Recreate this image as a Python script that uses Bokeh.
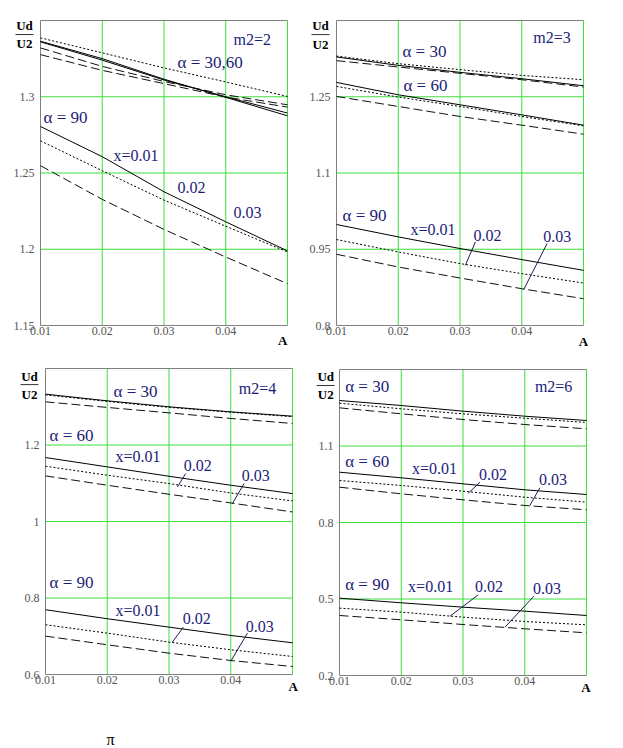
from bokeh.plotting import figure
from bokeh.models import FixedTicker, Label, Arrow, Range1d
from bokeh.layouts import gridplot
from bokeh.embed import file_html
from bokeh.resources import INLINE

# ---------------- data ----------------
A = [0.01, 0.02, 0.03, 0.04, 0.05]
x_ticks = [0.01, 0.02, 0.03, 0.04]
x_grid = [0.02, 0.03, 0.04, 0.05]

# m2 = 2
m2_2_a3060_solid1 = [1.3364, 1.3250, 1.3115, 1.2996, 1.2875]
m2_2_a3060_solid2 = [1.3360, 1.3240, 1.3110, 1.3000, 1.2893]
m2_2_a3060_dotted = [1.3386, 1.3288, 1.3189, 1.3097, 1.3002]
m2_2_a3060_dash1 = [1.3320, 1.3199, 1.3100, 1.3013, 1.2947]
m2_2_a3060_dash2 = [1.3276, 1.3173, 1.3086, 1.2998, 1.2932]
m2_2_a90_x001 = [1.2805, 1.2607, 1.2377, 1.2180, 1.1989]
m2_2_a90_x002 = [1.2711, 1.2515, 1.2322, 1.2151, 1.1982]
m2_2_a90_x003 = [1.2548, 1.2327, 1.2130, 1.1949, 1.1774]
m2_2_yticks = [1.15, 1.2, 1.25, 1.3]

# m2 = 3
m2_3_a30_x001 = [1.3283, 1.3118, 1.2980, 1.2855, 1.2717]
m2_3_a30_x002 = [1.3300, 1.3151, 1.3033, 1.2920, 1.2835]
m2_3_a30_x003 = [1.3210, 1.3085, 1.2961, 1.2835, 1.2691]
m2_3_a60_x001 = [1.2782, 1.2539, 1.2342, 1.2144, 1.1941]
m2_3_a60_x002 = [1.2703, 1.2494, 1.2309, 1.2112, 1.1927]
m2_3_a60_x003 = [1.2506, 1.2309, 1.2112, 1.1941, 1.1763]
m2_3_a90_x001 = [0.9987, 0.9743, 0.9514, 0.9297, 0.9085]
m2_3_a90_x002 = [0.9691, 0.9447, 0.9218, 0.9020, 0.8835]
m2_3_a90_x003 = [0.9401, 0.9151, 0.8934, 0.8724, 0.8527]
m2_3_yticks = [0.8, 0.95, 1.1, 1.25]

# m2 = 4
m2_4_a30_x001 = [1.3330, 1.3155, 1.2998, 1.2867, 1.2754]
m2_4_a30_x002 = [1.3310, 1.3140, 1.2985, 1.2855, 1.2740]
m2_4_a30_x003 = [1.3128, 1.2982, 1.2841, 1.2694, 1.2563]
m2_4_a60_x001 = [1.1672, 1.1428, 1.1183, 1.0948, 1.0730]
m2_4_a60_x002 = [1.1445, 1.1210, 1.0992, 1.0746, 1.0537]
m2_4_a60_x003 = [1.1192, 1.0948, 1.0712, 1.0485, 1.0249]
m2_4_a90_x001 = [0.7693, 0.7458, 0.7238, 0.7021, 0.6829]
m2_4_a90_x002 = [0.7301, 0.7082, 0.6846, 0.6647, 0.6471]
m2_4_a90_x003 = [0.7003, 0.6777, 0.6558, 0.6366, 0.6209]
m2_4_yticks = [0.6, 0.8, 1.0, 1.2]

# m2 = 6
m2_6_a30_x001 = [1.2784, 1.2588, 1.2366, 1.2169, 1.2000]
m2_6_a30_x002 = [1.2678, 1.2458, 1.2262, 1.2090, 1.1922]
m2_6_a30_x003 = [1.2497, 1.2262, 1.2039, 1.1843, 1.1674]
m2_6_a60_x001 = [0.9973, 0.9753, 0.9517, 0.9282, 0.9098]
m2_6_a60_x002 = [0.9647, 0.9451, 0.9228, 0.8993, 0.8797]
m2_6_a60_x003 = [0.9384, 0.9125, 0.8889, 0.8667, 0.8497]
m2_6_a90_x001 = [0.5033, 0.4851, 0.4680, 0.4523, 0.4353]
m2_6_a90_x002 = [0.4641, 0.4484, 0.4288, 0.4118, 0.3987]
m2_6_a90_x003 = [0.4353, 0.4184, 0.4000, 0.3831, 0.3673]
m2_6_yticks = [0.2, 0.5, 0.8, 1.1]

# ---------------- style ----------------
NAVY = "#1c1c78"
GREEN = "#3de03d"
GRAY = "#808080"
SERIF = "Liberation Serif"
DOT = "2 2"
DASH = "9 4"
X0, X1 = 0.01, 0.05


def fmt(v):
    return ("%.2f" % v).rstrip("0").rstrip(".")


def make_panel(W, H, box, ylo, yhi, yticks):
    # box = (left, right, top, bottom) of the plotting box, in canvas pixels
    l, r, t, b = box
    kx = (X1 - X0) / (r - l)
    ky = (yhi - ylo) / (b - t)
    xr = Range1d(X0 - l * kx, X1 + (W - r) * kx)
    yr = Range1d(ylo - (H - b) * ky, yhi + t * ky)
    p = figure(width=W, height=H, x_range=xr, y_range=yr,
               output_backend="svg", toolbar_location=None,
               min_border=0, min_border_left=0, min_border_right=0,
               min_border_top=0, min_border_bottom=0)
    p.background_fill_color = "white"
    p.border_fill_color = "white"
    p.outline_line_color = None
    p.outline_line_alpha = 0
    p.grid.visible = False

    # grid lines of the plotting box
    p.segment(x0=x_grid, y0=[ylo] * len(x_grid), x1=x_grid, y1=[yhi] * len(x_grid),
              line_color=GREEN, line_width=1)
    hy = yticks[1:]
    p.segment(x0=[X0] * len(hy), y0=hy, x1=[X1] * len(hy), y1=hy,
              line_color=GREEN, line_width=1)
    # top, left and bottom edges of the box
    p.segment(x0=[X0, X0, X0], y0=[yhi, ylo, ylo], x1=[X1, X0, X1], y1=[yhi, yhi, ylo],
              line_color=GRAY, line_width=1)

    p.xaxis.ticker = FixedTicker(ticks=x_ticks)
    p.yaxis.ticker = FixedTicker(ticks=yticks)
    p.yaxis.major_label_overrides = {tk: fmt(tk) for tk in yticks}
    p.xaxis.major_label_overrides = {tk: fmt(tk) for tk in x_ticks}
    p.xaxis.fixed_location = ylo
    p.yaxis.fixed_location = X0
    p.xaxis.bounds = (X0, X1)
    p.yaxis.bounds = (ylo, yhi)
    for ax in (p.xaxis, p.yaxis):
        ax.axis_line_color = None
        ax.major_tick_line_color = None
        ax.minor_tick_line_color = None
        ax.major_tick_out = 0
        ax.major_tick_in = 0
        ax.minor_tick_out = 0
        ax.minor_tick_in = 0
        ax.major_label_text_font = SERIF
        ax.major_label_text_font_size = "12px"
        ax.major_label_text_color = "#555555"
    p.xaxis.major_label_standoff = 1
    p.yaxis.major_label_standoff = 6
    return p


def curves(p, solid, dotted, dashed):
    for ys in solid:
        p.line(A, ys, line_color="black", line_width=1)
    for ys in dotted:
        p.line(A, ys, line_color="black", line_width=1, line_dash=DOT)
    for ys in dashed:
        p.line(A, ys, line_color="#111111", line_width=1, line_dash=DASH)


def txt(p, x, y, s, size="16px", align="left", style="normal", color=NAVY):
    p.add_layout(Label(x=x, y=y, text=s, text_font=SERIF, text_font_size=size,
                       text_color=color, text_align=align, text_baseline="middle",
                       text_font_style=style))


def leader(p, x0, y0, x1, y1, color="#1c1c50"):
    p.add_layout(Arrow(end=None, x_start=x0, y_start=y0, x_end=x1, y_end=y1,
                       line_color=color, line_width=1))


def ud_u2(p, xc, y_ud, y_bar, y_u2, xb0, xb1, xa, ya):
    txt(p, xc, y_ud, "Ud", size="13px", align="center", style="bold", color="black")
    txt(p, xc, y_u2, "U2", size="13px", align="center", style="bold", color="black")
    leader(p, xb0, y_bar, xb1, y_bar, color="#333333")
    txt(p, xa, ya, "A", size="13px", align="right", style="bold", color="black")


# ---------------- panel m2=2 ----------------
p1 = make_panel(308, 358, (40, 287, 20, 325), 1.15, 1.35, m2_2_yticks)
curves(p1, [m2_2_a3060_solid1, m2_2_a3060_solid2, m2_2_a90_x001],
       [m2_2_a3060_dotted, m2_2_a90_x002],
       [m2_2_a3060_dash1, m2_2_a3060_dash2, m2_2_a90_x003])
txt(p1, 0.04126, 1.3375, "m2=2")
txt(p1, 0.03219, 1.3224, "α = 30,60", size="17px")
txt(p1, 0.0105, 1.2862, "α = 90", size="17px")
txt(p1, 0.02182, 1.2618, "x=0.01")
txt(p1, 0.0322, 1.2408, "0.02")
txt(p1, 0.04126, 1.2243, "0.03")
ud_u2(p1, 0.00741, 1.3467, 1.3408, 1.3349, 0.00595, 0.00887, 0.05, 1.1401)

# ---------------- panel m2=3 ----------------
p2 = make_panel(313, 358, (28, 275, 20, 325), 0.8, 1.4, m2_3_yticks)
curves(p2, [m2_3_a30_x001, m2_3_a60_x001, m2_3_a90_x001],
       [m2_3_a30_x002, m2_3_a60_x002, m2_3_a90_x002],
       [m2_3_a30_x003, m2_3_a60_x003, m2_3_a90_x003])
txt(p2, 0.04188, 1.3664, "m2=3")
txt(p2, 0.02068, 1.3388, "α = 30", size="17px")
txt(p2, 0.02084, 1.2717, "α = 60", size="17px")
txt(p2, 0.01097, 1.0171, "α = 90", size="17px")
txt(p2, 0.02197, 0.9895, "x=0.01")
txt(p2, 0.03217, 0.9776, "0.02")
txt(p2, 0.0435, 0.9756, "0.03")
leader(p2, 0.03249, 0.9644, 0.03087, 0.9184)
leader(p2, 0.0441, 0.9612, 0.04031, 0.8705)
ud_u2(p2, 0.00741, 1.3901, 1.3723, 1.3526, 0.00595, 0.00887, 0.05076, 0.769)

# ---------------- panel m2=4 ----------------
p3 = make_panel(308, 390, (45, 292, 10, 316), 0.6, 1.4, m2_4_yticks)
curves(p3, [m2_4_a30_x001, m2_4_a60_x001, m2_4_a90_x001],
       [m2_4_a30_x002, m2_4_a60_x002, m2_4_a90_x002],
       [m2_4_a30_x003, m2_4_a60_x003, m2_4_a90_x003])
txt(p3, 0.0413, 1.3487, "m2=4")
txt(p3, 0.02103, 1.3408, "α = 30", size="17px")
txt(p3, 0.01065, 1.2257, "α = 60", size="17px")
txt(p3, 0.02135, 1.1707, "x=0.01")
txt(p3, 0.03238, 1.1471, "0.02")
txt(p3, 0.04178, 1.1209, "0.03")
leader(p3, 0.0327, 1.1254, 0.03136, 1.0903)
leader(p3, 0.04216, 1.0992, 0.04027, 1.0469)
txt(p3, 0.01065, 0.8408, "α = 90", size="17px")
txt(p3, 0.02135, 0.7675, "x=0.01")
txt(p3, 0.03222, 0.7466, "0.02")
txt(p3, 0.04243, 0.7257, "0.03")
leader(p3, 0.03233, 0.7238, 0.03054, 0.6846)
leader(p3, 0.04271, 0.7081, 0.04, 0.6348)
ud_u2(p3, 0.00741, 1.3801, 1.3579, 1.333, 0.00595, 0.00886, 0.05086, 0.5686)
txt(p3, 0.02054, 0.4298, "π", size="16px", align="center", color="black")

# ---------------- panel m2=6 ----------------
p4 = make_panel(313, 390, (31, 278, 11, 317), 0.2, 1.4, m2_6_yticks)
curves(p4, [m2_6_a30_x001, m2_6_a60_x001, m2_6_a90_x001],
       [m2_6_a30_x002, m2_6_a60_x002, m2_6_a90_x002],
       [m2_6_a30_x003, m2_6_a60_x003, m2_6_a90_x003])
txt(p4, 0.04164, 1.3333, "m2=6")
txt(p4, 0.01092, 1.3333, "α = 30", size="17px")
txt(p4, 0.01092, 1.0404, "α = 60", size="17px")
txt(p4, 0.02175, 1.0118, "x=0.01")
txt(p4, 0.03258, 0.9882, "0.02")
txt(p4, 0.04229, 0.9686, "0.03")
leader(p4, 0.03275, 0.958, 0.03086, 0.9149)
leader(p4, 0.04245, 0.9361, 0.04083, 0.8667)
txt(p4, 0.01092, 0.5569, "α = 90", size="17px")
txt(p4, 0.02111, 0.549, "x=0.01")
txt(p4, 0.03194, 0.549, "0.02")
txt(p4, 0.04132, 0.5412, "0.03")
leader(p4, 0.03247, 0.5165, 0.0279, 0.4325)
leader(p4, 0.04148, 0.511, 0.03679, 0.3894)
ud_u2(p4, 0.00777, 1.3725, 1.3373, 1.302, 0.00631, 0.00922, 0.05065, 0.1518)

grid = gridplot([[p1, p2], [p3, p4]], toolbar_location=None)

open("out.html", "w").write(file_html(grid, INLINE))
